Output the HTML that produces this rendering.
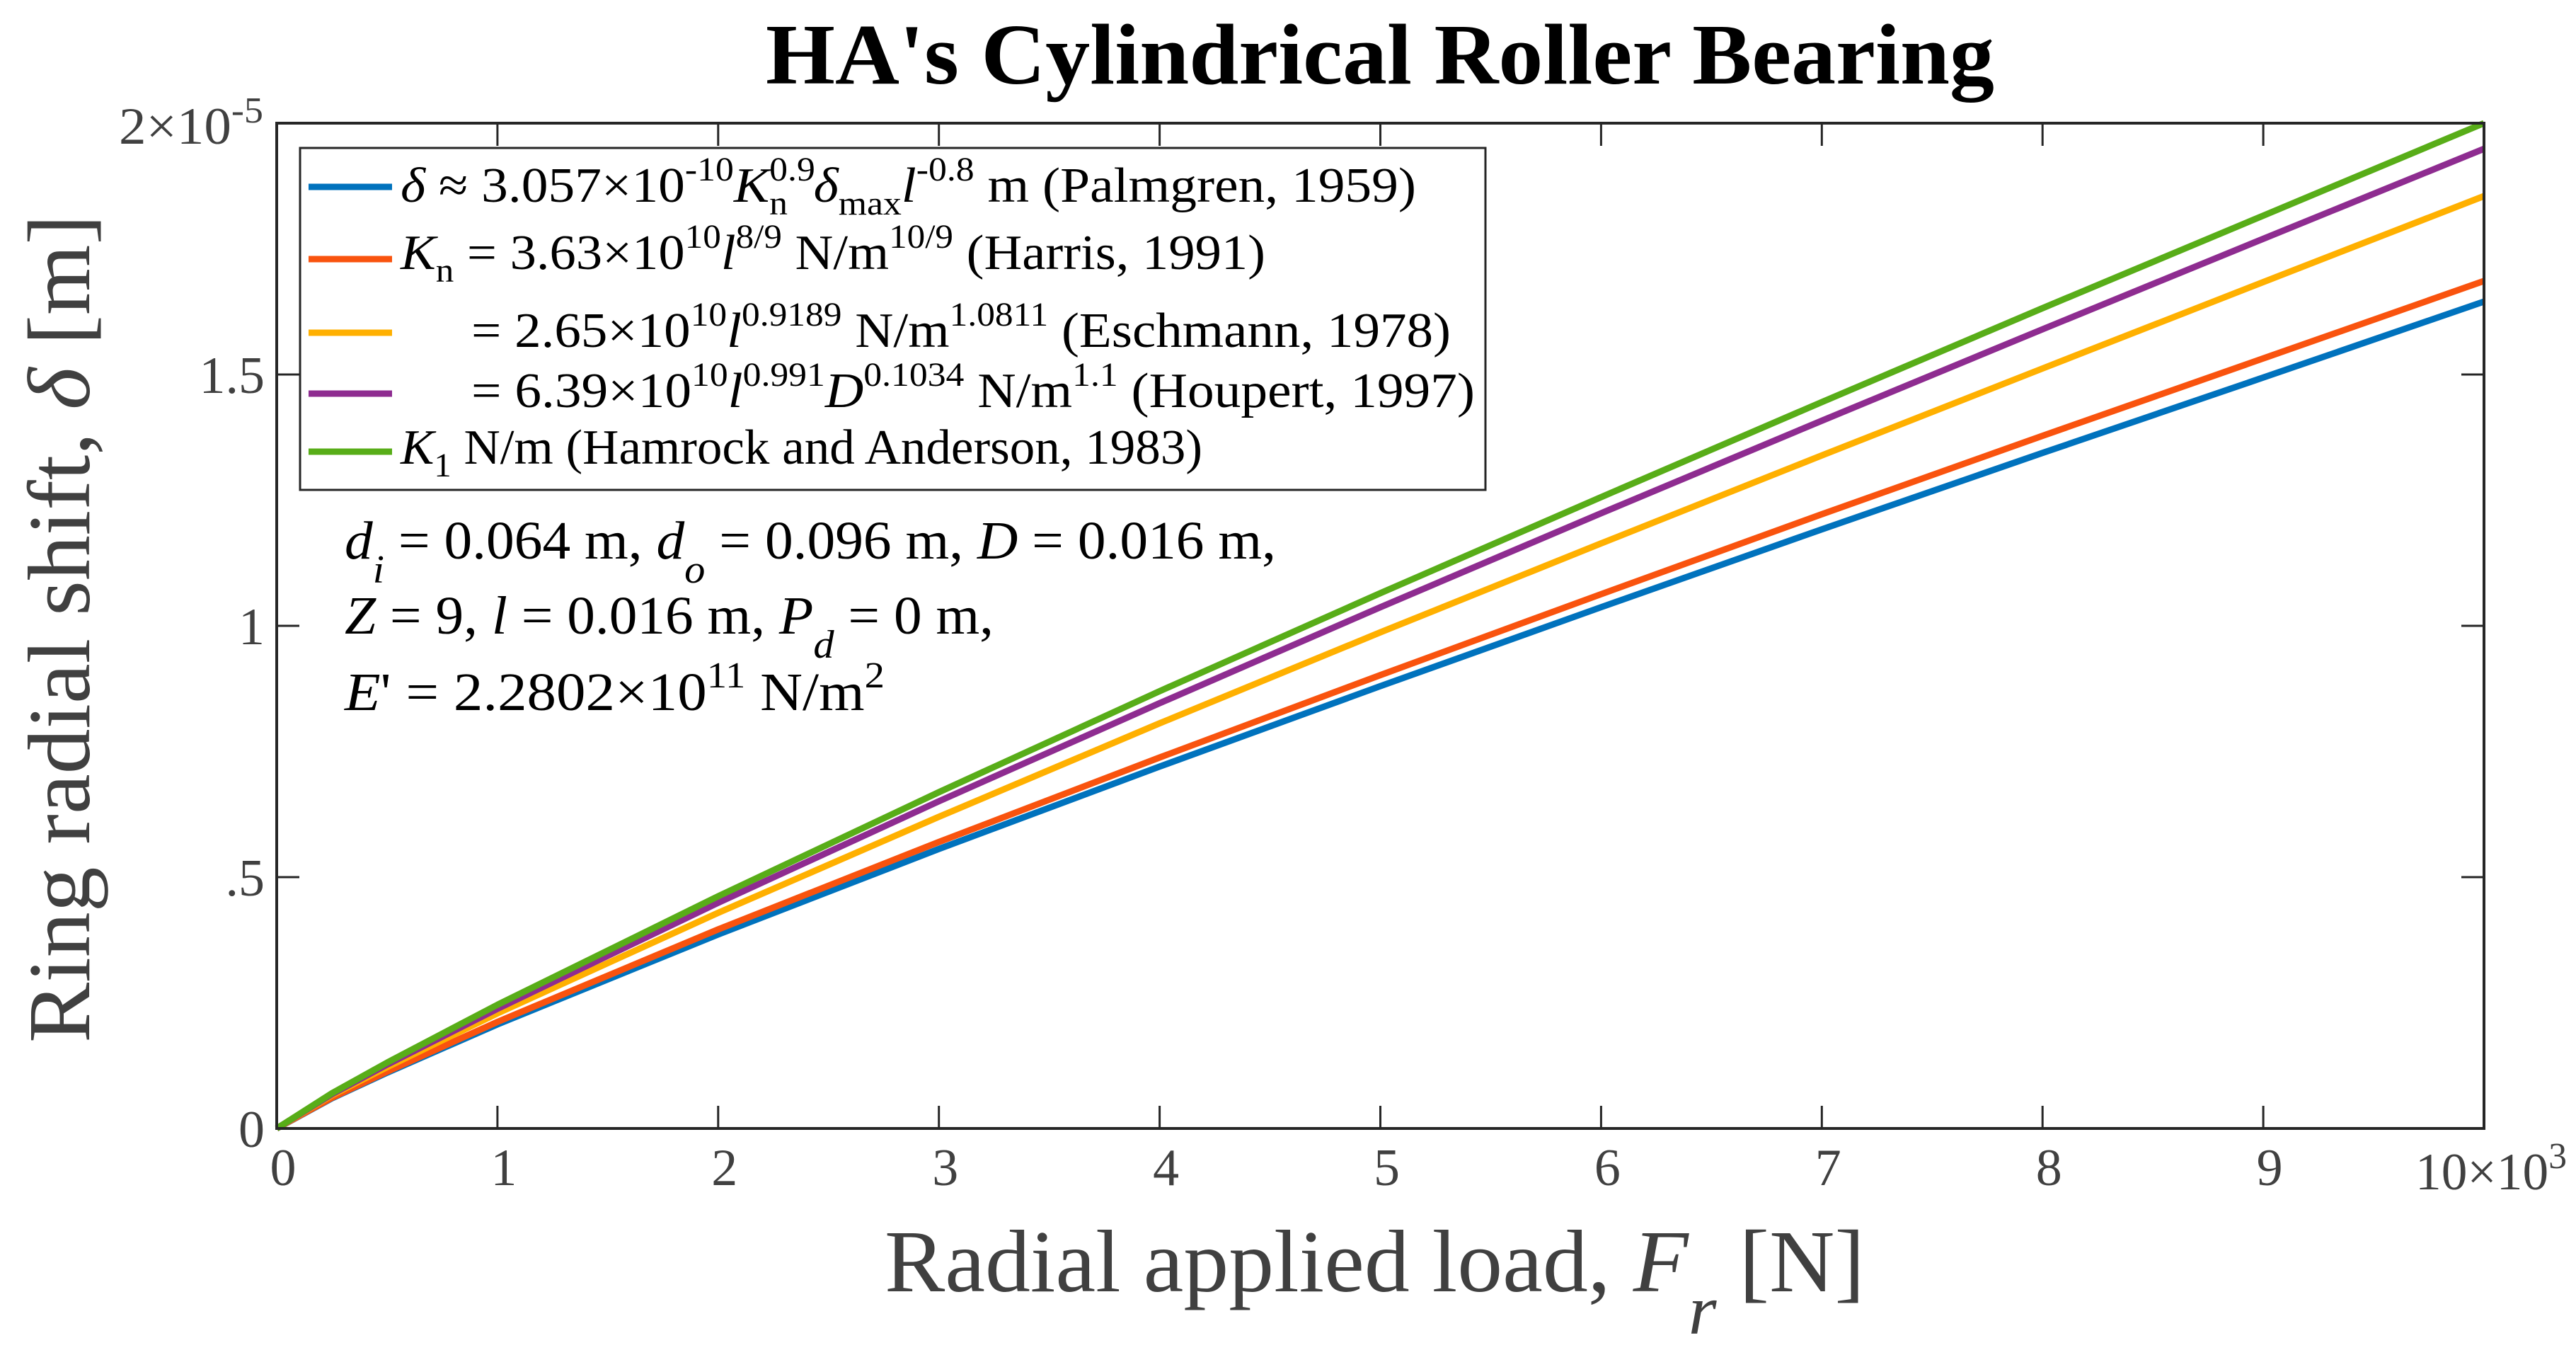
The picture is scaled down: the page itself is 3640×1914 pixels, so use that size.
<!DOCTYPE html>
<html><head><meta charset="utf-8"><style>
html,body{margin:0;padding:0;background:#fff;}
svg{display:block;}
text{font-family:"Liberation Serif","DejaVu Serif",serif;}
.tk{fill:#404040;font-size:74px;}
.lg{fill:#000;font-size:70px;}
.an{fill:#000;font-size:76px;}
</style></head><body>
<svg id="chart" width="3640" height="1914" viewBox="0 0 3640 1914" xmlns="http://www.w3.org/2000/svg">
<rect width="3640" height="1914" fill="#fff"/>
<text x="1950" y="118" text-anchor="middle" font-weight="bold" font-size="122" textLength="1736" lengthAdjust="spacingAndGlyphs">HA's Cylindrical Roller Bearing</text>
<g id="series"></g>
<g id="axes"></g>
<text class="tk" x="168" y="203" textLength="204" lengthAdjust="spacingAndGlyphs">2×10<tspan font-size="52" dy="-30">-5</tspan></text>
<text class="tk" x="3413" y="1680" textLength="214" lengthAdjust="spacingAndGlyphs">10×10<tspan font-size="52" dy="-30">3</tspan></text>
<text transform="translate(126,888) rotate(-90)" text-anchor="middle" font-size="125" fill="#404040" textLength="1170" lengthAdjust="spacingAndGlyphs">Ring radial shift, <tspan font-style="italic">δ</tspan>  [m]</text>
<text x="1250" y="1824" font-size="125" fill="#404040" textLength="1385" lengthAdjust="spacingAndGlyphs">Radial applied load, <tspan font-style="italic">F</tspan><tspan font-style="italic" font-size="100" dy="60">r</tspan><tspan dy="-60">  [N]</tspan></text>
<g>
<rect x="424" y="209" width="1675" height="483" fill="#fff" stroke="#262626" stroke-width="3"/>
<line x1="436" y1="264" x2="554" y2="264" stroke="#0072BD" stroke-width="9"/>
<line x1="436" y1="366" x2="554" y2="366" stroke="#F9530E" stroke-width="9"/>
<line x1="436" y1="470" x2="554" y2="470" stroke="#FFB000" stroke-width="9"/>
<line x1="436" y1="556" x2="554" y2="556" stroke="#8E2C90" stroke-width="9"/>
<line x1="436" y1="638" x2="554" y2="638" stroke="#58AD18" stroke-width="9"/>
<text class="lg" x="566" y="285" textLength="1435" lengthAdjust="spacingAndGlyphs"><tspan font-style="italic">δ</tspan> ≈ 3.057×10<tspan font-size="48" dy="-30">-10</tspan><tspan font-style="italic" dy="30">K</tspan><tspan font-size="48" dy="-30">0.9</tspan><tspan font-size="48" dx="-60" dy="48">n</tspan><tspan font-style="italic" dx="34" dy="-18">δ</tspan><tspan font-size="48" dy="18">max</tspan><tspan font-style="italic" dy="-18">l</tspan><tspan font-size="48" dy="-30">-0.8</tspan><tspan dy="30"> m (Palmgren, 1959)</tspan></text>
<text class="lg" x="566" y="380" textLength="1222" lengthAdjust="spacingAndGlyphs"><tspan font-style="italic">K</tspan><tspan font-size="48" dy="18">n</tspan><tspan dy="-18"> = 3.63×10</tspan><tspan font-size="48" dy="-30">10</tspan><tspan font-style="italic" dy="30">l</tspan><tspan font-size="48" dy="-30">8/9</tspan><tspan dy="30"> N/m</tspan><tspan font-size="48" dy="-30">10/9</tspan><tspan dy="30"> (Harris, 1991)</tspan></text>
<text class="lg" x="666" y="490" textLength="1384" lengthAdjust="spacingAndGlyphs">= 2.65×10<tspan font-size="48" dy="-30">10</tspan><tspan font-style="italic" dy="30">l</tspan><tspan font-size="48" dy="-30">0.9189</tspan><tspan dy="30"> N/m</tspan><tspan font-size="48" dy="-30">1.0811</tspan><tspan dy="30"> (Eschmann, 1978)</tspan></text>
<text class="lg" x="666" y="575" textLength="1418" lengthAdjust="spacingAndGlyphs">= 6.39×10<tspan font-size="48" dy="-30">10</tspan><tspan font-style="italic" dy="30">l</tspan><tspan font-size="48" dy="-30">0.991</tspan><tspan font-style="italic" dy="30">D</tspan><tspan font-size="48" dy="-30">0.1034</tspan><tspan dy="30"> N/m</tspan><tspan font-size="48" dy="-30">1.1</tspan><tspan dy="30"> (Houpert, 1997)</tspan></text>
<text class="lg" x="566" y="655" textLength="1133" lengthAdjust="spacingAndGlyphs"><tspan font-style="italic">K</tspan><tspan font-size="48" dy="18">1</tspan><tspan dy="-18"> N/m (Hamrock and Anderson, 1983)</tspan></text>
</g>
<g>
<text class="an" x="487" y="789" textLength="1316" lengthAdjust="spacingAndGlyphs"><tspan font-style="italic">d</tspan><tspan font-style="italic" font-size="56" dy="34">i</tspan><tspan dy="-34"> = 0.064 m, </tspan><tspan font-style="italic">d</tspan><tspan font-style="italic" font-size="56" dy="34">o</tspan><tspan dy="-34"> = 0.096 m, </tspan><tspan font-style="italic">D</tspan> = 0.016 m,</text>
<text class="an" x="487" y="895" textLength="917" lengthAdjust="spacingAndGlyphs"><tspan font-style="italic">Z</tspan> = 9, <tspan font-style="italic">l</tspan> = 0.016 m, <tspan font-style="italic">P</tspan><tspan font-style="italic" font-size="56" dy="34">d</tspan><tspan dy="-34"> = 0 m,</tspan></text>
<text class="an" x="487" y="1003" textLength="763" lengthAdjust="spacingAndGlyphs"><tspan font-style="italic">E</tspan>' = 2.2802×10<tspan font-size="52" dy="-32">11</tspan><tspan dy="32"> N/m</tspan><tspan font-size="52" dy="-32">2</tspan></text>
</g>
<script>
const loadK = [0, 0.25, 0.5, 1, 2, 3, 4, 5, 6, 7, 8, 9, 10];
const palmgren = [0, 0.060, 0.111, 0.207, 0.386, 0.556, 0.720, 0.880, 1.037, 1.192, 1.344, 1.494, 1.645];
const harris = [0, 0.061, 0.113, 0.212, 0.396, 0.570, 0.738, 0.902, 1.063, 1.222, 1.378, 1.532, 1.686];
const eschmann = [0, 0.066, 0.122, 0.229, 0.429, 0.620, 0.806, 0.987, 1.164, 1.339, 1.512, 1.684, 1.855];
const houpert = [0, 0.068, 0.127, 0.238, 0.449, 0.651, 0.846, 1.037, 1.224, 1.408, 1.590, 1.770, 1.949];
const hamrock = [0, 0.070, 0.131, 0.246, 0.462, 0.669, 0.870, 1.065, 1.256, 1.445, 1.632, 1.816, 2.000];
const xTicks = [0, 1, 2, 3, 4, 5, 6, 7, 8, 9, 10];
const xTickLabels = ["0","1","2","3","4","5","6","7","8","9",""];
const yTicks = [0, 0.5, 1, 1.5, 2];
const yTickLabels = ["0", ".5", "1", "1.5", ""];

const NS = "http://www.w3.org/2000/svg";
const L = 391, R = 3510, T = 174, B = 1594;
function xs(v){ return L + (v - 0) / 10 * (R - L); }
function ys(v){ return B - (v - 0) / 2 * (B - T); }
function mk(tag, attrs, parent){
  const e = document.createElementNS(NS, tag);
  for (const k in attrs) e.setAttribute(k, attrs[k]);
  parent.appendChild(e);
  return e;
}
const sg = document.getElementById("series");
const seriesList = [
  [palmgren, "#0072BD", "line-palmgren"],
  [harris, "#F9530E", "line-harris"],
  [eschmann, "#FFB000", "line-eschmann"],
  [houpert, "#8E2C90", "line-houpert"],
  [hamrock, "#58AD18", "line-hamrock"]
];
seriesList.forEach(s => {
  const d = s[0].map((v, i) => (i ? "L" : "M") + xs(loadK[i]).toFixed(1) + "," + ys(v).toFixed(1)).join(" ");
  const p = mk("path", {d: d, fill: "none", stroke: s[1], "stroke-width": 9, "stroke-linejoin": "round"}, sg);
  
  
});
const ax = document.getElementById("axes");
const box = mk("rect", {x: L, y: T, width: R - L, height: B - T, fill: "none", stroke: "#262626", "stroke-width": 4}, ax);


xTicks.forEach((v, i) => {
  const x = xs(v);
  const t1 = mk("line", {x1: x, y1: B, x2: x, y2: B - 32, stroke: "#262626", "stroke-width": 3}, ax);
  
  
  const t2 = mk("line", {x1: x, y1: T, x2: x, y2: T + 32, stroke: "#262626", "stroke-width": 3}, ax);
  
  
  if (xTickLabels[i]) {
    const tx = mk("text", {x: x + 9, y: 1674, "text-anchor": "middle", class: "tk"}, ax);
    tx.textContent = xTickLabels[i];
    
    
  }
});
yTicks.forEach((v, i) => {
  const y = ys(v);
  const t1 = mk("line", {x1: L, y1: y, x2: L + 32, y2: y, stroke: "#262626", "stroke-width": 3}, ax);
  
  
  const t2 = mk("line", {x1: R, y1: y, x2: R - 32, y2: y, stroke: "#262626", "stroke-width": 3}, ax);
  
  
  if (yTickLabels[i]) {
    const ty = mk("text", {x: 374, y: y + 26, "text-anchor": "end", class: "tk"}, ax);
    ty.textContent = yTickLabels[i];
    
    
  }
});
</script>
</svg>
</body></html>
